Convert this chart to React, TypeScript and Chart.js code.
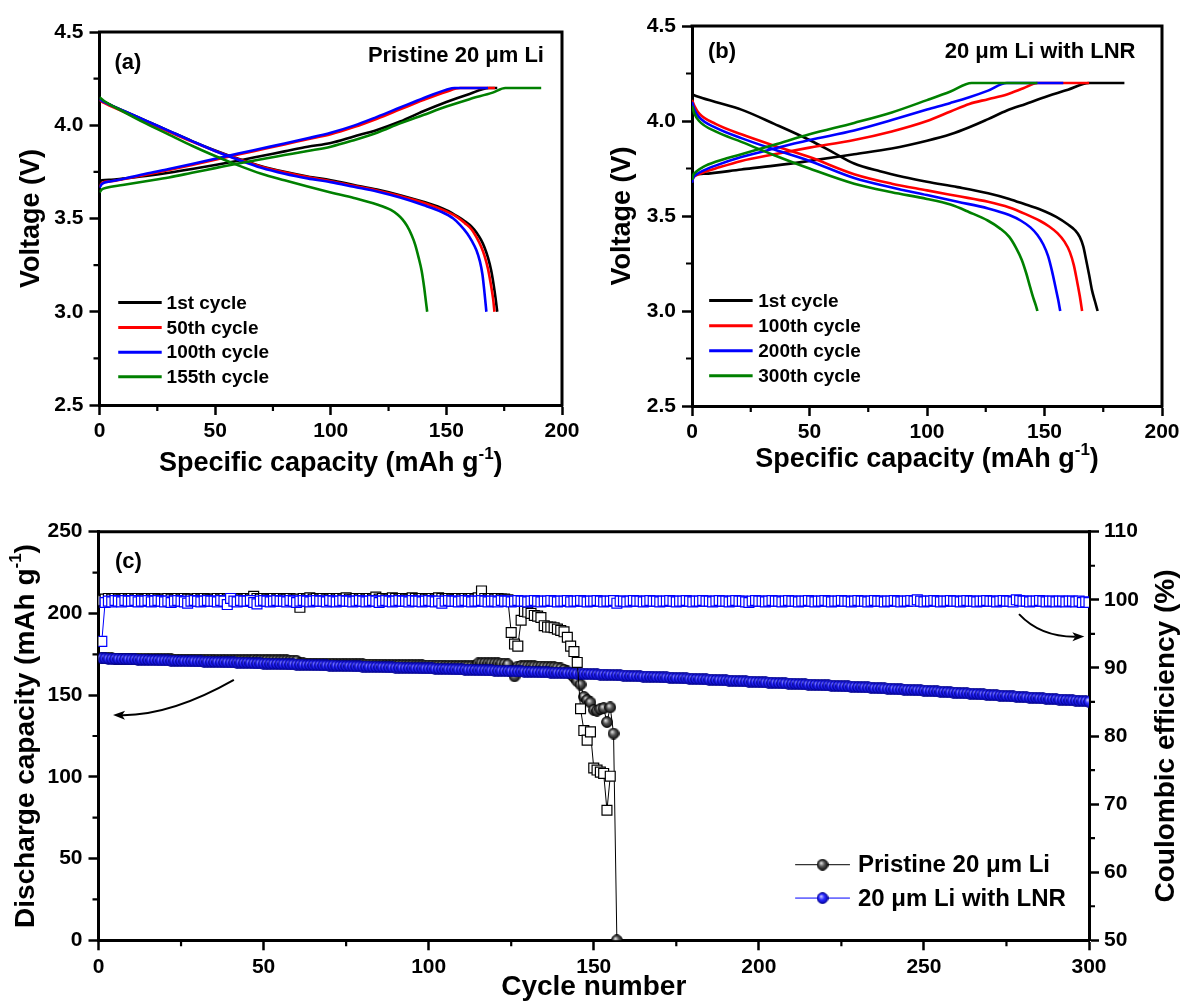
import React, { useEffect, useRef } from 'react';
import { Chart, registerables } from 'chart.js';

Chart.register(...registerables);

const FONT = "'Liberation Sans', Arial, Helvetica, sans-serif";
Chart.defaults.font.family = FONT;

// ---------------- Panel (a): Pristine 20 μm Li ----------------
const aNote = 'Pristine 20 μm Li';
const aLegend = ['1st cycle', '50th cycle', '100th cycle', '155th cycle'];
const aColors = ['#000000', '#ff0000', '#0000ff', '#008000'];

// charge curves
const aCh1X = [0, 1, 5, 10, 20, 30, 40, 50, 60, 70, 80, 90, 100, 110, 120, 130, 140, 150, 160, 168.5, 172];
const aCh1Y = [3.695, 3.705, 3.708, 3.714, 3.728, 3.745, 3.765, 3.787, 3.81, 3.835, 3.86, 3.885, 3.905, 3.94, 3.975, 4.02, 4.075, 4.125, 4.168, 4.2, 4.2];
const aCh50X = [0, 1, 5, 10, 20, 30, 40, 50, 60, 70, 80, 90, 100, 110, 120, 130, 140, 150, 156, 171];
const aCh50Y = [3.67, 3.69, 3.70, 3.71, 3.735, 3.76, 3.787, 3.815, 3.843, 3.87, 3.897, 3.925, 3.952, 3.99, 4.035, 4.085, 4.135, 4.18, 4.2, 4.2];
const aCh100X = [0, 1, 5, 10, 20, 30, 40, 50, 60, 70, 80, 90, 100, 110, 120, 130, 140, 150, 153.5, 168];
const aCh100Y = [3.665, 3.685, 3.70, 3.712, 3.74, 3.765, 3.792, 3.82, 3.848, 3.875, 3.902, 3.93, 3.96, 3.998, 4.045, 4.095, 4.145, 4.19, 4.2, 4.2];
const aCh155X = [0, 1, 3, 10, 20, 30, 40, 50, 60, 70, 80, 90, 100, 110, 120, 130, 140, 150, 160, 170, 175.5, 191];
const aCh155Y = [3.64, 3.655, 3.665, 3.68, 3.70, 3.72, 3.745, 3.77, 3.795, 3.818, 3.84, 3.862, 3.885, 3.92, 3.96, 4.01, 4.055, 4.10, 4.14, 4.175, 4.2, 4.2];
// discharge curves
const aDis1X = [0, 2, 10, 20, 30, 40, 50, 60, 70, 80, 90, 100, 110, 120, 130, 140, 150, 155, 158, 161, 163, 165, 166.5, 168, 169.4, 170.5, 171.3, 172];
const aDis1Y = [4.14, 4.125, 4.08, 4.025, 3.97, 3.915, 3.865, 3.82, 3.78, 3.75, 3.725, 3.705, 3.68, 3.655, 3.625, 3.59, 3.545, 3.51, 3.485, 3.455, 3.425, 3.385, 3.345, 3.29, 3.22, 3.14, 3.07, 3.0];
const aDis50X = [0, 2, 10, 20, 30, 40, 50, 60, 70, 80, 90, 100, 110, 120, 130, 140, 150, 155, 158, 161, 163, 165, 166.5, 168, 169.2, 170.2, 170.8];
const aDis50Y = [4.135, 4.12, 4.075, 4.02, 3.965, 3.912, 3.862, 3.818, 3.778, 3.748, 3.722, 3.70, 3.675, 3.65, 3.62, 3.585, 3.538, 3.505, 3.475, 3.44, 3.40, 3.35, 3.30, 3.23, 3.15, 3.07, 3.0];
const aDis100X = [0, 2, 10, 20, 30, 40, 50, 60, 70, 80, 90, 100, 110, 120, 130, 140, 148, 153, 156, 159, 161, 163, 164.5, 165.6, 166.5, 167.3];
const aDis100Y = [4.14, 4.125, 4.08, 4.025, 3.97, 3.915, 3.862, 3.815, 3.772, 3.74, 3.715, 3.695, 3.67, 3.645, 3.612, 3.572, 3.535, 3.50, 3.465, 3.42, 3.38, 3.33, 3.27, 3.20, 3.10, 3.0];
const aDis155X = [0, 2, 10, 20, 30, 40, 50, 60, 70, 80, 90, 100, 110, 120, 126, 129, 131, 133, 135, 136.5, 138, 139.3, 140.4, 141.1, 141.7];
const aDis155Y = [4.15, 4.13, 4.075, 4.01, 3.95, 3.89, 3.835, 3.785, 3.74, 3.705, 3.672, 3.64, 3.61, 3.575, 3.546, 3.52, 3.495, 3.46, 3.41, 3.36, 3.29, 3.22, 3.13, 3.06, 3.0];

// ---------------- Panel (b): 20 μm Li with LNR ----------------
const bNote = '20 μm Li with LNR';
const bLegend = ['1st cycle', '100th cycle', '200th cycle', '300th cycle'];
const bColors = ['#000000', '#ff0000', '#0000ff', '#008000'];

const bCh1X = [0, 0.5, 2, 5, 21, 35, 50, 69, 85, 100, 110, 118, 126, 134, 142, 150, 160, 169, 184];
const bCh1Y = [3.69, 3.71, 3.72, 3.722, 3.745, 3.765, 3.79, 3.825, 3.855, 3.896, 3.93, 3.967, 4.01, 4.055, 4.09, 4.125, 4.165, 4.2, 4.2];
const bCh100X = [0, 0.5, 2, 5, 10, 21, 35, 50, 69, 85, 100, 110, 118, 126, 134, 141, 147, 169];
const bCh100Y = [3.68, 3.70, 3.715, 3.73, 3.75, 3.79, 3.825, 3.86, 3.90, 3.945, 4.0, 4.05, 4.09, 4.115, 4.14, 4.172, 4.2, 4.2];
const bCh200X = [0, 0.5, 2, 5, 10, 21, 35, 50, 69, 85, 100, 110, 118, 126, 134, 158];
const bCh200Y = [3.675, 3.70, 3.72, 3.74, 3.765, 3.81, 3.855, 3.90, 3.95, 4.005, 4.06, 4.095, 4.125, 4.16, 4.2, 4.2];
const bCh300X = [0, 0.5, 2, 5, 10, 21, 35, 50, 69, 85, 100, 110, 119, 147];
const bCh300Y = [3.69, 3.715, 3.735, 3.76, 3.785, 3.825, 3.875, 3.93, 3.99, 4.045, 4.11, 4.155, 4.2, 4.2];

const bDis1X = [0, 2, 10, 21, 35, 50, 60, 69, 80, 90, 100, 113, 126, 135, 142, 150, 155, 160, 163, 165, 166.5, 167.7, 169, 170.2, 171.5, 172.6];
const bDis1Y = [4.14, 4.13, 4.10, 4.06, 3.985, 3.90, 3.835, 3.776, 3.735, 3.705, 3.68, 3.652, 3.62, 3.59, 3.56, 3.525, 3.495, 3.455, 3.425, 3.39, 3.34, 3.27, 3.19, 3.11, 3.05, 3.0];
const bDis100X = [0, 1, 3, 10, 21, 35, 50, 69, 85, 100, 113, 126, 135, 142, 148, 152, 155.5, 158.5, 160.8, 162.5, 163.8, 165, 166];
const bDis100Y = [4.11, 4.08, 4.04, 3.985, 3.93, 3.87, 3.81, 3.72, 3.67, 3.635, 3.605, 3.575, 3.545, 3.51, 3.475, 3.445, 3.41, 3.365, 3.31, 3.24, 3.16, 3.08, 3.0];
const bDis200X = [0, 1, 3, 10, 21, 35, 50, 69, 85, 100, 113, 126, 135, 140, 144, 147, 149.5, 151.5, 153.2, 154.6, 155.8, 156.7];
const bDis200Y = [4.10, 4.06, 4.02, 3.965, 3.91, 3.85, 3.79, 3.70, 3.65, 3.61, 3.575, 3.54, 3.505, 3.475, 3.44, 3.40, 3.35, 3.29, 3.21, 3.13, 3.06, 3.0];
const bDis300X = [0, 1, 3, 10, 21, 35, 50, 69, 85, 100, 110, 118, 126, 131, 135, 138, 140.3, 142.2, 143.8, 145.2, 146.3, 147];
const bDis300Y = [4.08, 4.04, 4.0, 3.945, 3.89, 3.82, 3.75, 3.67, 3.625, 3.59, 3.56, 3.52, 3.475, 3.435, 3.39, 3.33, 3.27, 3.20, 3.13, 3.07, 3.03, 3.0];

// ---------------- Panel (c): cycling ----------------
const cLegend = ['Pristine 20 μm Li', '20 μm Li with LNR'];

// discharge capacity, 20 μm Li with LNR, cycles 1..300
const lnrCap = [
  172.6, 172.5, 172.4, 172.3, 172.3, 172.2, 172.1, 172.1, 172.0, 171.9,
  171.9, 171.8, 171.7, 171.7, 171.6, 171.5, 171.5, 171.4, 171.3, 171.3,
  171.2, 171.1, 171.1, 171.0, 170.9, 170.9, 170.8, 170.8, 170.7, 170.6,
  170.6, 170.5, 170.5, 170.4, 170.3, 170.3, 170.2, 170.2, 170.1, 170.0,
  170.0, 169.9, 169.9, 169.8, 169.8, 169.7, 169.5, 169.4, 169.4, 169.3,
  169.3, 169.2, 169.1, 169.1, 169.0, 169.0, 168.9, 168.8, 168.8, 168.7,
  168.7, 168.6, 168.5, 168.5, 168.4, 168.4, 168.3, 168.2, 168.2, 168.1,
  168.1, 168.0, 167.9, 167.9, 167.8, 167.8, 167.7, 167.6, 167.6, 167.5,
  167.5, 167.4, 167.3, 167.3, 167.2, 167.2, 167.1, 167.0, 167.0, 166.9,
  166.9, 166.8, 166.7, 166.7, 166.6, 166.6, 166.5, 166.4, 166.4, 166.3,
  166.3, 166.2, 166.1, 166.1, 166.0, 165.9, 165.9, 165.8, 165.7, 165.7,
  165.6, 165.5, 165.5, 165.4, 165.3, 165.3, 165.2, 165.1, 165.1, 165.0,
  164.9, 164.9, 164.8, 164.7, 164.7, 164.6, 164.5, 164.5, 164.4, 164.3,
  164.3, 164.2, 164.1, 164.0, 164.0, 163.9, 163.8, 163.8, 163.7, 163.6,
  163.5, 163.5, 163.4, 163.3, 163.2, 163.2, 163.1, 163.0, 162.9, 162.8,
  162.7, 162.6, 162.6, 162.5, 162.4, 162.3, 162.2, 162.1, 162.0, 161.9,
  161.8, 161.7, 161.6, 161.5, 161.4, 161.4, 161.3, 161.2, 161.1, 161.0,
  160.9, 160.8, 160.7, 160.6, 160.5, 160.4, 160.3, 160.2, 160.1, 160.0,
  159.9, 159.8, 159.7, 159.6, 159.5, 159.4, 159.3, 159.2, 159.1, 159.0,
  158.9, 158.8, 158.7, 158.6, 158.5, 158.4, 158.3, 158.2, 158.1, 158.0,
  157.9, 157.8, 157.7, 157.6, 157.5, 157.4, 157.3, 157.2, 157.1, 157.0,
  156.9, 156.8, 156.7, 156.6, 156.5, 156.4, 156.3, 156.2, 156.1, 156.0,
  155.9, 155.8, 155.7, 155.6, 155.5, 155.4, 155.3, 155.2, 155.1, 155.0,
  154.9, 154.8, 154.7, 154.6, 154.4, 154.3, 154.2, 154.1, 154.0, 153.9,
  153.8, 153.6, 153.5, 153.4, 153.3, 153.2, 153.1, 153.0, 152.9, 152.8,
  152.7, 152.5, 152.4, 152.3, 152.1, 152.0, 151.9, 151.7, 151.6, 151.5,
  151.3, 151.2, 151.1, 150.9, 150.8, 150.7, 150.5, 150.4, 150.3, 150.1,
  150.0, 149.9, 149.7, 149.6, 149.5, 149.3, 149.2, 149.1, 148.9, 148.8,
  148.7, 148.5, 148.4, 148.3, 148.1, 148.0, 147.9, 147.7, 147.6, 147.5,
  147.3, 147.2, 147.1, 146.9, 146.8, 146.7, 146.5, 146.4, 146.3, 146.1,
];

// coulombic efficiency, 20 μm Li with LNR, cycles 1..300
const lnrCE = [
  93.9, 99.6, 99.8, 99.7, 99.9, 99.8, 99.7, 99.9, 99.8, 99.8,
  99.9, 99.7, 99.8, 99.8, 99.9, 99.7, 99.8, 99.9, 99.8, 99.7,
  99.8, 99.6, 99.8, 99.9, 99.8, 99.7, 99.5, 99.8, 99.9, 99.8,
  99.7, 99.8, 99.9, 99.8, 99.8, 99.7, 99.9, 99.8, 99.3, 100.2,
  99.8, 99.7, 99.9, 99.8, 99.8, 99.9, 99.6, 99.4, 99.8, 99.9,
  99.8, 99.7, 99.8, 99.9, 99.8, 99.8, 99.7, 99.9, 99.8, 99.6,
  99.8, 99.9, 99.8, 99.7, 99.8, 99.9, 99.8, 99.8, 99.7, 99.9,
  99.8, 99.7, 99.8, 99.9, 99.8, 99.8, 99.7, 99.8, 99.9, 99.8,
  99.7, 99.8, 99.9, 99.8, 99.6, 99.8, 99.9, 99.8, 99.7, 99.8,
  99.9, 99.8, 99.8, 99.7, 99.9, 99.8, 99.8, 99.7, 99.8, 99.9,
  99.8, 99.7, 99.8, 99.5, 99.8, 99.9, 99.8, 99.8, 99.7, 99.8,
  99.9, 99.8, 99.7, 99.8, 99.8, 99.9, 99.8, 99.7, 99.8, 99.8,
  99.7, 99.9, 99.8, 99.8, 99.7, 99.8, 99.9, 99.8, 99.8, 99.7,
  99.8, 99.9, 99.8, 99.7, 99.8, 99.8, 99.9, 99.8, 99.7, 99.8,
  99.8, 99.9, 99.7, 99.8, 99.8, 99.9, 99.8, 99.7, 99.8, 99.8,
  99.9, 99.8, 99.7, 99.8, 99.8, 99.9, 99.5, 99.8, 99.8, 99.7,
  99.8, 99.9, 99.8, 99.8, 99.7, 99.8, 99.9, 99.8, 99.8, 99.7,
  99.8, 99.8, 99.9, 99.8, 99.7, 99.8, 99.8, 99.9, 99.8, 99.7,
  99.8, 99.8, 99.9, 99.8, 99.8, 99.7, 99.8, 99.9, 99.8, 99.8,
  99.7, 99.8, 99.9, 99.8, 99.8, 99.7, 99.6, 99.8, 99.9, 99.8,
  99.8, 99.7, 99.8, 99.9, 99.8, 99.8, 99.7, 99.8, 99.9, 99.8,
  99.8, 99.7, 99.8, 99.8, 99.9, 99.8, 99.7, 99.8, 99.8, 99.9,
  99.8, 99.7, 99.8, 99.8, 99.9, 99.8, 99.8, 99.7, 99.8, 99.9,
  99.8, 99.8, 99.7, 99.8, 99.9, 99.8, 99.8, 99.7, 99.8, 99.8,
  99.9, 99.8, 99.7, 99.8, 99.8, 99.9, 99.8, 100.0, 99.8, 99.7,
  99.8, 99.8, 99.9, 99.8, 99.7, 99.8, 99.8, 99.9, 99.8, 99.8,
  99.7, 99.8, 99.9, 99.8, 99.8, 99.7, 99.8, 99.8, 99.9, 99.8,
  99.8, 99.7, 99.8, 99.9, 99.8, 99.8, 99.7, 100.0, 99.9, 99.8,
  99.8, 99.7, 99.8, 99.8, 99.9, 99.8, 99.7, 99.8, 99.8, 99.7,
  99.8, 99.8, 99.7, 99.8, 99.8, 99.7, 99.8, 99.6, 99.7, 99.6,
];

// discharge capacity, pristine 20 μm Li, cycles 1..157
const priCap = [
  172.8, 172.6, 172.5, 172.5, 172.4, 172.4, 172.3, 172.3, 172.3, 172.2,
  172.2, 172.2, 172.1, 172.1, 172.1, 172.0, 172.0, 172.0, 171.9, 171.9,
  171.9, 171.9, 171.8, 171.8, 171.8, 171.8, 171.7, 171.7, 171.7, 171.7,
  171.6, 171.6, 171.6, 171.6, 171.5, 171.5, 171.5, 171.5, 171.4, 171.4,
  171.4, 171.4, 171.3, 171.3, 171.3, 171.3, 171.6, 171.5, 171.5, 171.4,
  171.4, 171.3, 171.3, 171.3, 171.2, 171.2, 171.2, 171.1, 171.1, 171.0,
  169.4, 169.4, 169.3, 169.3, 169.3, 169.2, 169.2, 169.2, 169.1, 169.1,
  169.1, 169.0, 169.0, 169.0, 168.9, 168.9, 168.9, 168.8, 168.8, 168.8,
  168.7, 168.7, 168.7, 168.6, 168.6, 168.6, 168.5, 168.5, 168.5, 168.4,
  168.4, 168.4, 168.3, 168.3, 168.3, 168.2, 168.2, 168.2, 168.1, 168.1,
  168.1, 168.0, 168.0, 168.0, 167.9, 167.9, 167.9, 167.8, 167.8, 167.8,
  167.7, 167.7, 167.7, 167.6, 169.5, 169.6, 169.6, 169.5, 169.5, 169.4,
  169.4, 169.3, 169.2, 168.8, 164.5, 161.5, 167.5, 167.8, 167.8, 167.7,
  167.6, 167.6, 167.5, 167.5, 167.4, 167.3, 167.2, 167.1, 166.8, 166.3,
  165.5, 164.5, 163.0, 161.0, 158.5, 156.5, 149.0, 147.0, 145.5, 141.0,
  140.5, 141.5, 142.0, 133.5, 142.5, 126.5, 0,
];

// coulombic efficiency, pristine 20 μm Li, cycles 1..155
const priCE = [
  99.9, 100.1, 100.2, 100.1, 100.2, 100.1, 100.0, 100.2, 100.1, 100.2,
  100.1, 100.2, 100.1, 100.0, 100.2, 100.1, 100.2, 100.1, 100.0, 100.1,
  100.2, 100.1, 100.0, 100.2, 100.1, 100.2, 100.1, 100.1, 100.0, 100.2,
  100.1, 100.2, 100.1, 100.0, 100.1, 100.2, 100.1, 100.2, 100.1, 100.0,
  100.1, 100.2, 100.1, 100.1, 100.2, 100.1, 100.5, 100.2, 100.1, 100.2,
  100.1, 100.0, 100.2, 100.1, 100.2, 100.1, 100.1, 100.2, 100.0, 100.1,
  98.9, 100.2, 100.1, 100.3, 100.1, 100.2, 100.1, 100.2, 100.0, 100.1,
  100.2, 100.1, 100.2, 100.1, 100.3, 100.1, 100.0, 100.2, 100.1, 100.2,
  100.1, 100.2, 100.1, 100.4, 100.1, 100.2, 100.0, 100.1, 100.3, 100.2,
  100.1, 100.2, 100.1, 100.0, 100.3, 100.2, 100.1, 100.2, 100.1, 100.1,
  100.2, 100.1, 100.3, 100.2, 100.1, 100.2, 100.1, 100.0, 100.2, 100.1,
  100.2, 100.1, 100.2, 100.1, 100.3, 101.3, 100.2, 100.1, 100.2, 100.1,
  100.2, 100.1, 100.1, 100.0, 95.2, 93.5, 93.2, 97.0, 98.3, 98.2,
  98.0, 97.7, 97.6, 97.4, 96.2, 96.0, 96.0, 95.9, 95.7, 95.5,
  95.3, 94.5, 93.2, 92.4, 90.8, 84.0, 80.8, 79.4, 80.6, 75.3,
  75.0, 74.7, 74.5, 69.1, 74.1,
];

// axis ticks
const capTicksMinor = [25, 75, 125, 175];
const voltTicksMinor = [2.75, 3.25, 3.75, 4.25];
const cycleTicksMinor = [25, 75, 125, 175, 225, 275];
const dcapTicksMinor = [25, 75, 125, 175, 225];
const ceTicksMinor = [55, 65, 75, 85, 95, 105];

type Pt = { x: number; y: number };
const zip = (xs: number[], ys: number[]): Pt[] => xs.map((x, i) => ({ x, y: ys[i] }));
const byCycle = (vals: number[]): Pt[] => vals.map((v, i) => ({ x: i + 1, y: v }));

function setFont(ctx: CanvasRenderingContext2D, size: number, weight = 'bold') {
  ctx.font = `${weight} ${size}px ${FONT}`;
}

type Part = { t: string; sup?: boolean };
function drawRich(ctx: CanvasRenderingContext2D, parts: Part[], x: number, y: number, size: number, rotate = false) {
  ctx.save();
  ctx.translate(x, y);
  if (rotate) ctx.rotate(-Math.PI / 2);
  ctx.fillStyle = '#000';
  ctx.textBaseline = 'middle';
  ctx.textAlign = 'left';
  const supSize = Math.round(size * 0.62);
  let total = 0;
  const widths = parts.map((p) => {
    setFont(ctx, p.sup ? supSize : size);
    const w = ctx.measureText(p.t).width;
    total += w;
    return w;
  });
  let cx = -total / 2;
  parts.forEach((p, i) => {
    setFont(ctx, p.sup ? supSize : size);
    ctx.fillText(p.t, cx, p.sup ? -size * 0.36 : 0);
    cx += widths[i];
  });
  ctx.restore();
}

function drawMinor(ctx: CanvasRenderingContext2D, scale: any, values: number[], side: string, len: number) {
  ctx.beginPath();
  values.forEach((v) => {
    const p = scale.getPixelForValue(v);
    if (side === 'bottom') {
      ctx.moveTo(p, scale.top);
      ctx.lineTo(p, scale.top + len);
    } else if (side === 'left') {
      ctx.moveTo(scale.right, p);
      ctx.lineTo(scale.right - len, p);
    } else {
      ctx.moveTo(scale.left, p);
      ctx.lineTo(scale.left + len, p);
    }
  });
  ctx.stroke();
}

function makeSphere(d: number, light: string, mid: string, dark: string, stroke: string) {
  const c = document.createElement('canvas');
  c.width = d;
  c.height = d;
  const g = c.getContext('2d')!;
  const r = d / 2;
  const grad = g.createRadialGradient(r * 0.75, r * 0.7, r * 0.05, r, r, r);
  grad.addColorStop(0, light);
  grad.addColorStop(0.45, mid);
  grad.addColorStop(1, dark);
  g.fillStyle = grad;
  g.beginPath();
  g.arc(r, r, r - 0.6, 0, Math.PI * 2);
  g.fill();
  g.strokeStyle = stroke;
  g.lineWidth = 0.9;
  g.stroke();
  return c;
}

const tickFont = { family: FONT, size: 21, weight: 'bold' as const };

function axis(min: number, max: number, step: number, fmt: ((v: number) => string) | null, pad: number, extra: any = {}) {
  const ticks: any = { stepSize: step, font: tickFont, color: '#000', padding: pad, autoSkip: false, maxRotation: 0 };
  if (fmt) ticks.callback = (v: any) => fmt(Number(v));
  return {
    type: 'linear',
    min,
    max,
    ticks,
    grid: { drawOnChartArea: false, drawTicks: true, tickLength: 10, tickWidth: 2.5, tickColor: '#000' },
    border: { display: true, color: '#000', width: 3 },
    ...extra,
  };
}

const capTitle: Part[] = [{ t: 'Specific capacity (mAh g' }, { t: '-1', sup: true }, { t: ')' }];

function makeVoltage(canvas: HTMLCanvasElement, p: any) {
  const datasets = p.series.map((s: any) => ({
    data: s.pts,
    borderColor: s.color,
    backgroundColor: s.color,
    borderWidth: 2.6,
    showLine: true,
    pointRadius: 0,
    pointHoverRadius: 0,
    cubicInterpolationMode: 'monotone',
    fill: false,
    order: s.order,
  }));
  const plugin = {
    id: 'deco',
    afterDraw(chart: any) {
      const { ctx, chartArea: ca, scales } = chart;
      const X = scales.x;
      const Y = scales.y;
      ctx.save();
      ctx.strokeStyle = '#000';
      ctx.lineWidth = 3;
      ctx.beginPath();
      ctx.moveTo(ca.left - 1.5, ca.top);
      ctx.lineTo(ca.right + 1.5, ca.top);
      ctx.moveTo(ca.right, ca.top);
      ctx.lineTo(ca.right, ca.bottom + 1.5);
      ctx.stroke();
      ctx.lineWidth = 2.2;
      drawMinor(ctx, X, capTicksMinor, 'bottom', 6);
      drawMinor(ctx, Y, voltTicksMinor, 'left', 6);
      const lg = p.legend;
      lg.labels.forEach((lab: string, i: number) => {
        const yy = Y.getPixelForValue(lg.rows[i]);
        ctx.strokeStyle = lg.colors[i];
        ctx.lineWidth = 3;
        ctx.beginPath();
        ctx.moveTo(X.getPixelForValue(lg.x0), yy);
        ctx.lineTo(X.getPixelForValue(lg.x1), yy);
        ctx.stroke();
        setFont(ctx, 19);
        ctx.fillStyle = '#000';
        ctx.textAlign = 'left';
        ctx.textBaseline = 'middle';
        ctx.fillText(lab, X.getPixelForValue(lg.tx), yy + 1);
      });
      setFont(ctx, 22);
      ctx.fillStyle = '#000';
      ctx.textBaseline = 'middle';
      ctx.textAlign = 'left';
      ctx.fillText(p.tag, X.getPixelForValue(p.tagX), Y.getPixelForValue(p.tagV));
      ctx.textAlign = 'right';
      ctx.fillText(p.note, X.getPixelForValue(p.noteX), Y.getPixelForValue(p.noteV));
      drawRich(ctx, capTitle, (ca.left + ca.right) / 2, p.xTitleY, 27);
      drawRich(ctx, [{ t: 'Voltage (V)' }], p.yTitleX, (ca.top + ca.bottom) / 2, 27, true);
      ctx.restore();
    },
  };
  return new Chart(canvas, {
    type: 'scatter',
    data: { datasets },
    options: {
      animation: false,
      responsive: false,
      devicePixelRatio: 1,
      events: [],
      layout: { padding: p.padding },
      plugins: { legend: { display: false }, tooltip: { enabled: false } },
      scales: {
        x: axis(0, 200, 50, null, 4, { afterFit: (s: any) => { s.height = p.xHeight; } }),
        y: axis(2.5, 4.5, 0.5, (v) => v.toFixed(1), 6, { afterFit: (s: any) => { s.width = p.yWidth; } }),
      },
    } as any,
    plugins: [plugin],
  });
}

function makeCycle(canvas: HTMLCanvasElement) {
  const blueSphere = makeSphere(12, '#c4c4ff', '#2b2bff', '#0000a8', '#00008a');
  const graySphere = makeSphere(12, '#e0e0e0', '#555555', '#050505', '#000000');
  const common = { showLine: true, borderWidth: 1, pointHoverRadius: 0, fill: false };
  const datasets = [
    {
      ...common,
      data: byCycle(lnrCE),
      yAxisID: 'y1',
      borderColor: '#0000ff',
      pointStyle: 'rect',
      pointRadius: 7,
      pointBackgroundColor: '#ffffff',
      pointBorderColor: '#0000ff',
      pointBorderWidth: 1.2,
      order: 0,
    },
    {
      ...common,
      data: byCycle(priCE),
      yAxisID: 'y1',
      borderColor: '#000000',
      pointStyle: 'rect',
      pointRadius: 7,
      pointBackgroundColor: '#ffffff',
      pointBorderColor: '#000000',
      pointBorderWidth: 1.2,
      order: 1,
    },
    {
      ...common,
      data: byCycle(lnrCap),
      yAxisID: 'y',
      borderColor: '#0000ff',
      pointStyle: blueSphere,
      pointRadius: 6,
      order: 2,
    },
    {
      ...common,
      data: byCycle(priCap),
      yAxisID: 'y',
      borderColor: '#000000',
      pointStyle: graySphere,
      pointRadius: 6,
      order: 3,
    },
  ];

  const plugin = {
    id: 'decoC',
    afterDraw(chart: any) {
      const { ctx, chartArea: ca, scales } = chart;
      const X = scales.x;
      const Y = scales.y;
      const Y1 = scales.y1;
      ctx.save();
      ctx.strokeStyle = '#000';
      ctx.lineWidth = 3;
      ctx.beginPath();
      ctx.moveTo(ca.left - 1.5, ca.top);
      ctx.lineTo(ca.right + 1.5, ca.top);
      ctx.stroke();
      ctx.lineWidth = 2.2;
      drawMinor(ctx, X, cycleTicksMinor, 'bottom', 6);
      drawMinor(ctx, Y, dcapTicksMinor, 'left', 6);
      drawMinor(ctx, Y1, ceTicksMinor, 'right', 6);

      // legend
      const rows = [61.1, 56.2];
      const cols = ['#000000', '#0000ff'];
      const spheres = [graySphere, blueSphere];
      rows.forEach((r, i) => {
        const yy = Y1.getPixelForValue(r);
        const x0 = X.getPixelForValue(211);
        const x1 = X.getPixelForValue(227.6);
        ctx.strokeStyle = cols[i];
        ctx.lineWidth = 1;
        ctx.beginPath();
        ctx.moveTo(x0, yy);
        ctx.lineTo(x1, yy);
        ctx.stroke();
        const s = spheres[i];
        ctx.drawImage(s, (x0 + x1) / 2 - s.width / 2, yy - s.height / 2);
        setFont(ctx, 24);
        ctx.fillStyle = '#000';
        ctx.textAlign = 'left';
        ctx.textBaseline = 'middle';
        ctx.fillText(cLegend[i], X.getPixelForValue(230), yy + 1);
      });

      // arrows
      const arrow = (s: Pt, c: Pt, e: Pt) => {
        ctx.strokeStyle = '#000';
        ctx.fillStyle = '#000';
        ctx.lineWidth = 2;
        const ang = Math.atan2(e.y - c.y, e.x - c.x);
        const L = 12;
        const W = 4.5;
        const bx = e.x - L * Math.cos(ang);
        const by = e.y - L * Math.sin(ang);
        ctx.beginPath();
        ctx.moveTo(s.x, s.y);
        ctx.quadraticCurveTo(c.x, c.y, bx + 3 * Math.cos(ang), by + 3 * Math.sin(ang));
        ctx.stroke();
        ctx.beginPath();
        ctx.moveTo(e.x, e.y);
        ctx.lineTo(bx - W * Math.sin(ang), by + W * Math.cos(ang));
        ctx.lineTo(bx + 3 * Math.cos(ang), by + 3 * Math.sin(ang));
        ctx.lineTo(bx + W * Math.sin(ang), by - W * Math.cos(ang));
        ctx.closePath();
        ctx.fill();
      };
      const P = (x: number, y: number, sc: any) => ({ x: X.getPixelForValue(x), y: sc.getPixelForValue(y) });
      arrow(P(41, 159.3, Y), P(22, 137.5, Y), P(4.4, 137.8, Y));
      arrow(P(278.8, 97.9, Y1), P(285.3, 94.55, Y1), P(298.6, 94.6, Y1));

      setFont(ctx, 22);
      ctx.fillStyle = '#000';
      ctx.textAlign = 'left';
      ctx.textBaseline = 'middle';
      ctx.fillText('(c)', X.getPixelForValue(5), Y.getPixelForValue(231.6));

      drawRich(ctx, [{ t: 'Cycle number' }], (ca.left + ca.right) / 2, 497, 28);
      drawRich(ctx, [{ t: 'Discharge capacity (mAh g' }, { t: '-1', sup: true }, { t: ')' }], 26, (ca.top + ca.bottom) / 2, 28, true);
      drawRich(ctx, [{ t: 'Coulombic efficiency (%)' }], 1166, (ca.top + ca.bottom) / 2, 28, true);
      ctx.restore();
    },
  };

  return new Chart(canvas, {
    type: 'scatter',
    data: { datasets },
    options: {
      animation: false,
      responsive: false,
      devicePixelRatio: 1,
      events: [],
      layout: { padding: { left: 0, right: 0, top: 41.7, bottom: 0 } },
      plugins: { legend: { display: false }, tooltip: { enabled: false } },
      scales: {
        x: axis(0, 300, 50, null, 4, { afterFit: (s: any) => { s.height = 60.7; } }),
        y: axis(0, 250, 50, null, 6, { position: 'left', afterFit: (s: any) => { s.width = 98.5; } }),
        y1: axis(50, 110, 10, null, 5, { position: 'right', afterFit: (s: any) => { s.width = 95; } }),
      },
    } as any,
    plugins: [plugin],
  });
}

const panelA = {
  padding: { left: 0, right: 30, top: 32, bottom: 0 },
  yWidth: 99.5,
  xHeight: 85,
  series: [
    { pts: zip(aCh1X, aCh1Y), color: aColors[0], order: 3 },
    { pts: zip(aDis1X, aDis1Y), color: aColors[0], order: 3 },
    { pts: zip(aCh50X, aCh50Y), color: aColors[1], order: 2 },
    { pts: zip(aDis50X, aDis50Y), color: aColors[1], order: 2 },
    { pts: zip(aCh100X, aCh100Y), color: aColors[2], order: 1 },
    { pts: zip(aDis100X, aDis100Y), color: aColors[2], order: 1 },
    { pts: zip(aCh155X, aCh155Y), color: aColors[3], order: 0 },
    { pts: zip(aDis155X, aDis155Y), color: aColors[3], order: 0 },
  ],
  legend: { labels: aLegend, colors: aColors, x0: 8.1, x1: 26.9, tx: 29, rows: [3.049, 2.915, 2.783, 2.652] },
  tag: '(a)', tagX: 6.5, tagV: 4.334,
  note: aNote, noteX: 192.2, noteV: 4.37,
  xTitleY: 464,
  yTitleX: 32,
};

const panelB = {
  padding: { left: 0, right: 22, top: 26, bottom: 0 },
  yWidth: 100,
  xHeight: 84,
  series: [
    { pts: zip(bCh1X, bCh1Y), color: bColors[0], order: 3 },
    { pts: zip(bDis1X, bDis1Y), color: bColors[0], order: 3 },
    { pts: zip(bCh100X, bCh100Y), color: bColors[1], order: 2 },
    { pts: zip(bDis100X, bDis100Y), color: bColors[1], order: 2 },
    { pts: zip(bCh200X, bCh200Y), color: bColors[2], order: 1 },
    { pts: zip(bDis200X, bDis200Y), color: bColors[2], order: 1 },
    { pts: zip(bCh300X, bCh300Y), color: bColors[3], order: 0 },
    { pts: zip(bDis300X, bDis300Y), color: bColors[3], order: 0 },
  ],
  legend: { labels: bLegend, colors: bColors, x0: 7.3, x1: 25.8, tx: 28.2, rows: [3.055, 2.923, 2.791, 2.659] },
  tag: '(b)', tagX: 6.8, tagV: 4.365,
  note: bNote, noteX: 188.7, noteV: 4.365,
  xTitleY: 460,
  yTitleX: 30.7,
};

export default function App() {
  const refA = useRef<HTMLCanvasElement>(null);
  const refB = useRef<HTMLCanvasElement>(null);
  const refC = useRef<HTMLCanvasElement>(null);
  useEffect(() => {
    const charts: Chart[] = [];
    if (refA.current) charts.push(makeVoltage(refA.current, panelA));
    if (refB.current) charts.push(makeVoltage(refB.current, panelB));
    if (refC.current) charts.push(makeCycle(refC.current));
    return () => charts.forEach((c) => c.destroy());
  }, []);
  return (
    <div style={{ position: 'absolute', left: 0, top: 0, width: 1184, height: 1001, background: '#ffffff', overflow: 'hidden' }}>
      <canvas ref={refA} width={592} height={490} style={{ position: 'absolute', left: 0, top: 0 }} />
      <canvas ref={refB} width={592} height={490} style={{ position: 'absolute', left: 592, top: 0 }} />
      <canvas ref={refC} width={1184} height={511} style={{ position: 'absolute', left: 0, top: 490 }} />
    </div>
  );
}
